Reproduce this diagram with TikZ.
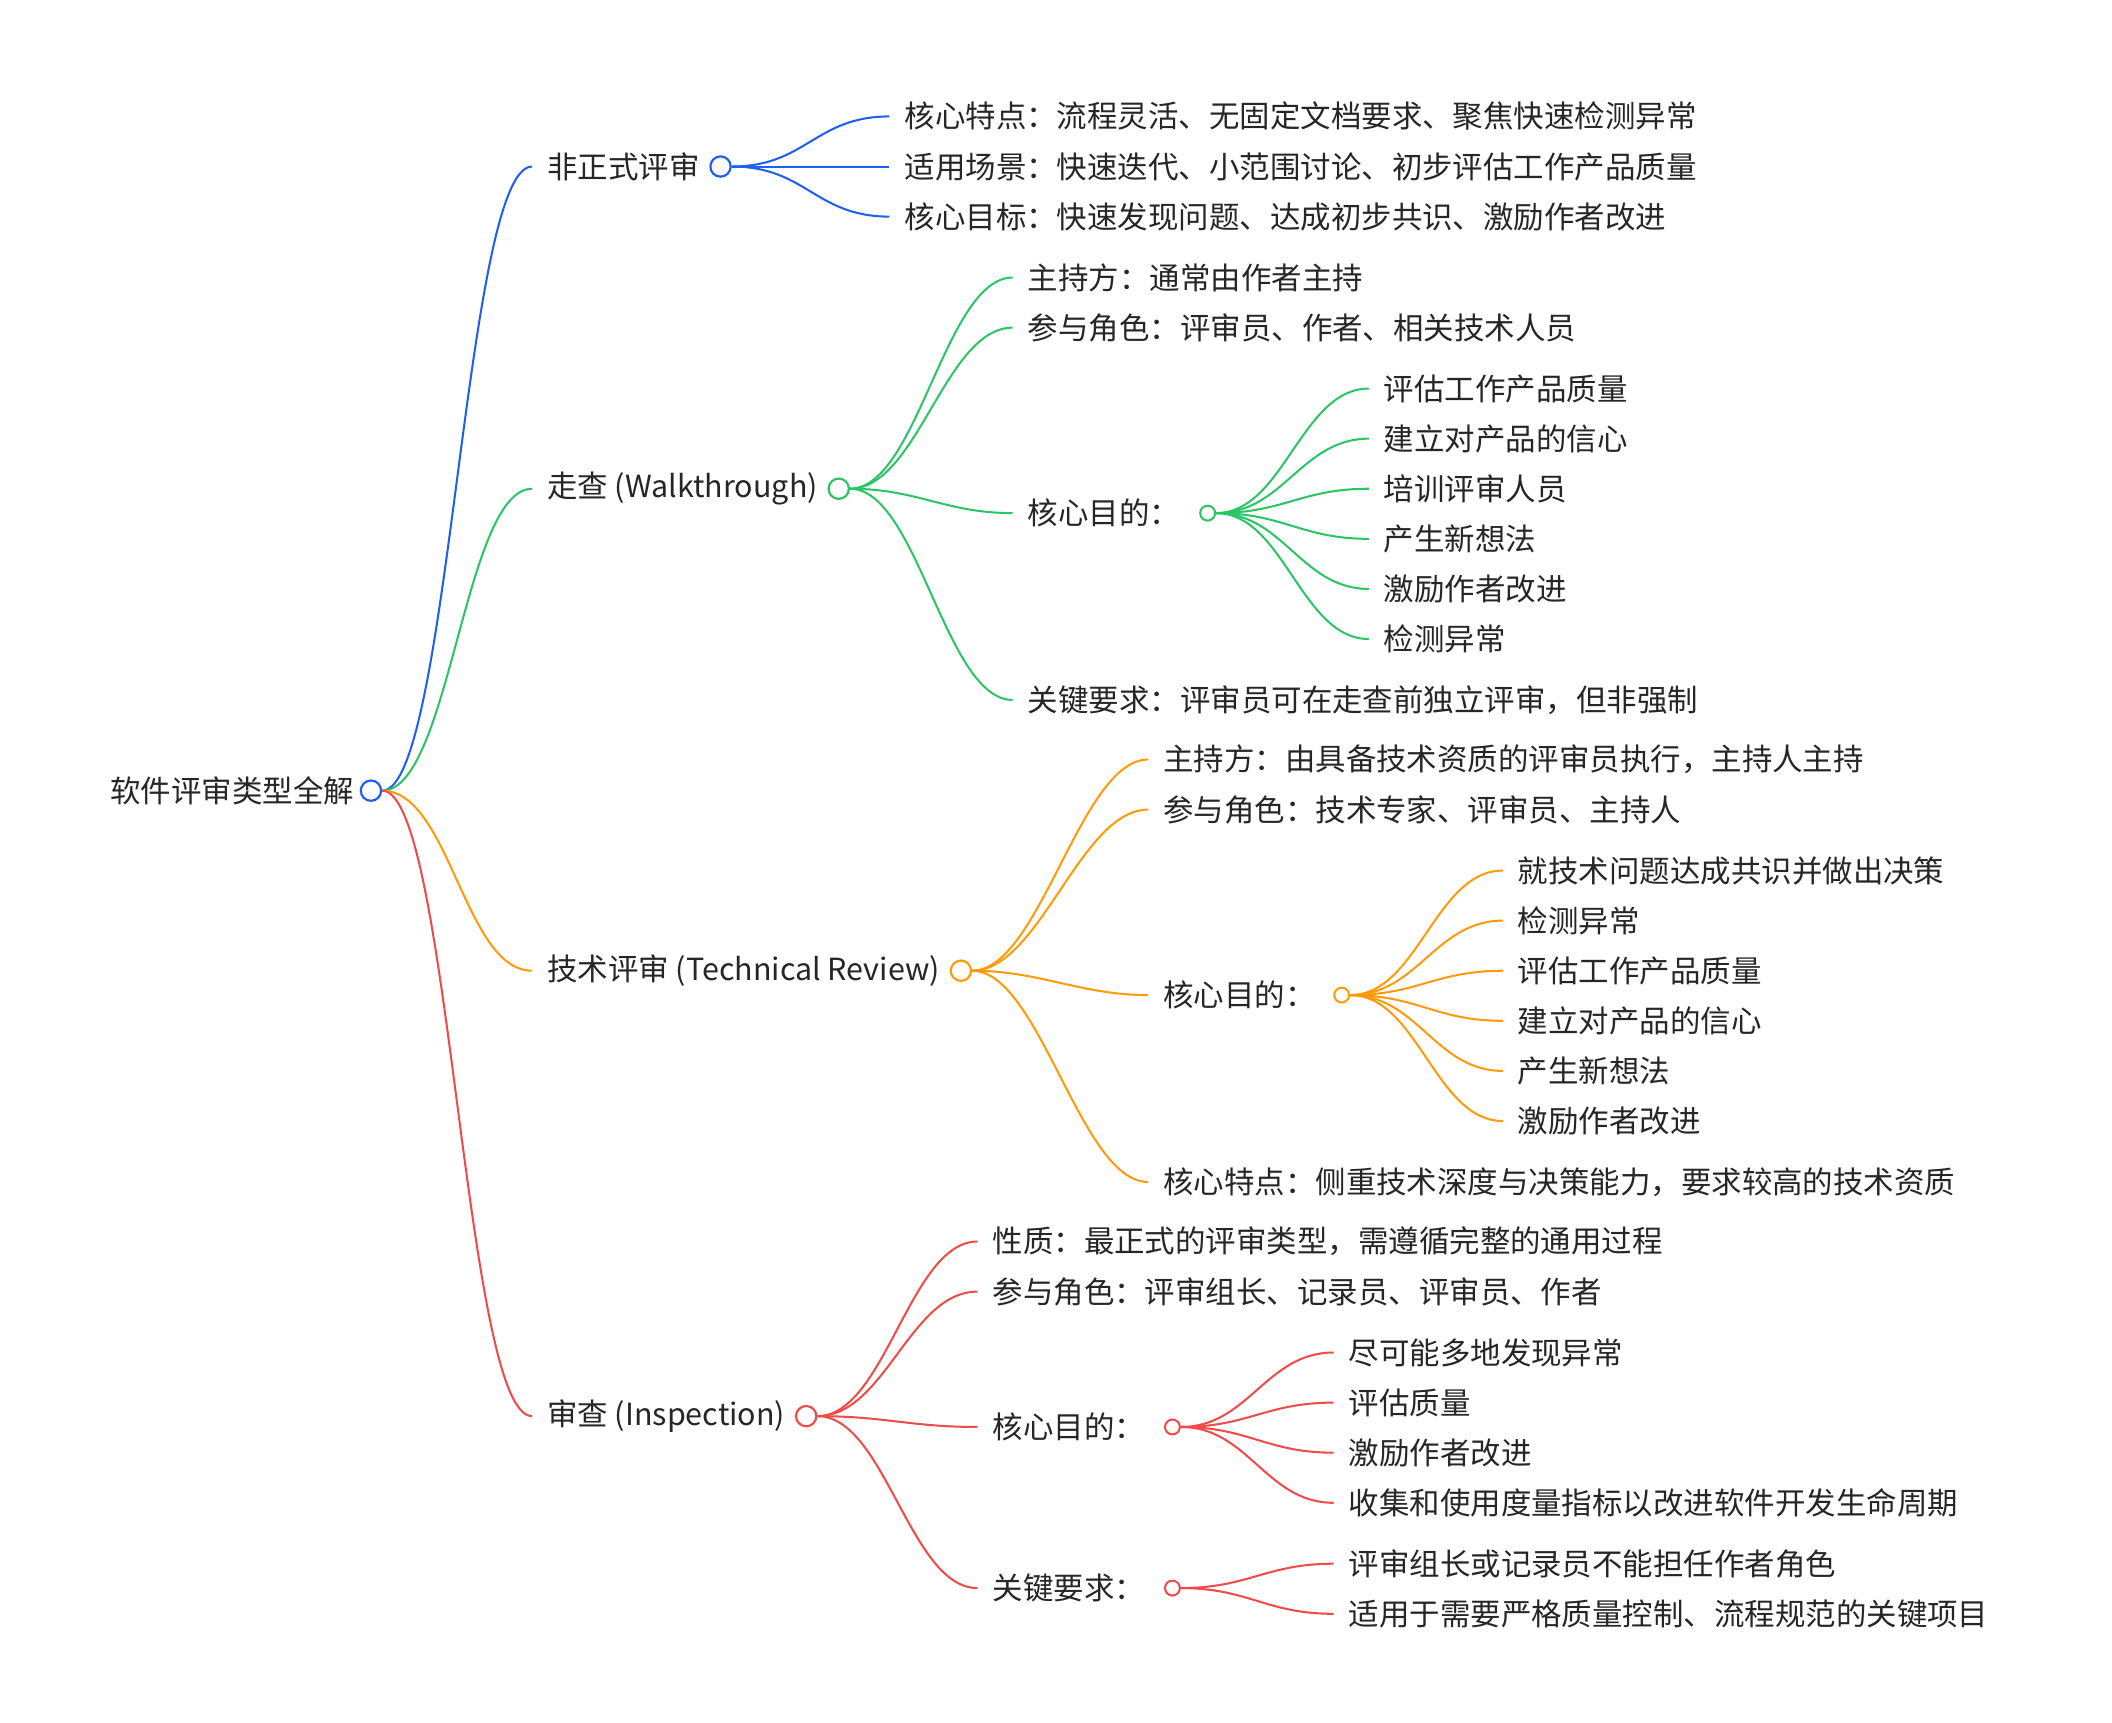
\documentclass[tikz,border=0pt]{standalone}
\usepackage{fontspec}
\setmainfont{Noto Sans CJK SC}
\definecolor{cb}{HTML}{1F5EF5}
\definecolor{cg}{HTML}{2BC565}
\definecolor{co}{HTML}{FF9A0A}
\definecolor{cr}{HTML}{F04A4A}
\begin{document}
\begin{tikzpicture}[x=1pt,y=-1pt,
  every node/.style={font=\fontsize{22.5}{27}\selectfont, text=black!85},
  lbl/.style={anchor=west, inner xsep=11pt, inner ysep=2pt},
  circ/.style={circle, draw, line width=1.6pt, fill=white, minimum size=15pt, inner sep=0pt},
  scirc/.style={circle, draw, line width=1.5pt, fill=white, minimum size=11pt, inner sep=0pt},
  ln/.style={line width=1.5pt}]
\useasboundingbox (0,0) rectangle (1560,1272);
% root
\node[circ, draw=cb] (root) at (274,584) {};
\node[anchor=east, inner xsep=4pt] (roott) at (root.west) {软件评审类型全解};
% level 1
\node[lbl] (a) at (393,123) {非正式评审};
\node[lbl] (b) at (393,361) {走查 (Walkthrough)};
\node[lbl] (c) at (393,717) {技术评审 (Technical Review)};
\node[lbl] (d) at (393,1046) {审查 (Inspection)};
\node[circ, draw=cb, anchor=west] (ac) at ([xshift=-4pt]a.east) {};
\node[circ, draw=cg, anchor=west] (bc) at ([xshift=-4pt]b.east) {};
\node[circ, draw=co, anchor=west] (cc) at ([xshift=-4pt]c.east) {};
\node[circ, draw=cr, anchor=west] (dc) at ([xshift=-4pt]d.east) {};
\draw[ln, cb] (root.east) .. controls +(50,0) and +(-50,0) .. (a.west);
\draw[ln, cg] (root.east) .. controls +(50,0) and +(-50,0) .. (b.west);
\draw[ln, co] (root.east) .. controls +(50,0) and +(-50,0) .. (c.west);
\draw[ln, cr] (root.east) .. controls +(50,0) and +(-50,0) .. (d.west);
% A children
\node[lbl] (a1) at (657,86) {核心特点：流程灵活、无固定文档要求、聚焦快速检测异常};
\node[lbl] (a2) at (657,123) {适用场景：快速迭代、小范围讨论、初步评估工作产品质量};
\node[lbl] (a3) at (657,160) {核心目标：快速发现问题、达成初步共识、激励作者改进};
\foreach \n in {a1,a2,a3}
  \draw[ln, cb] (ac.east) .. controls +(55,0) and +(-55,0) .. (\n.west);
% B children
\node[lbl] (b1) at (748,205) {主持方：通常由作者主持};
\node[lbl] (b2) at (748,242) {参与角色：评审员、作者、相关技术人员};
\node[lbl] (b3) at (748,379) {核心目的：};
\node[lbl] (b4) at (748,517) {关键要求：评审员可在走查前独立评审，但非强制};
\node[scirc, draw=cg] (b3c) at (892,379) {};
\foreach \n in {b1,b2,b3,b4}
  \draw[ln, cg] (bc.east) .. controls +(50,0) and +(-50,0) .. (\n.west);
\foreach \n/\y/\t in {b31/287/评估工作产品质量, b32/324/建立对产品的信心, b33/361/培训评审人员, b34/398/产生新想法, b35/435/激励作者改进, b36/472/检测异常}{
  \node[lbl] (\n) at (1011,\y) {\t};
  \draw[ln, cg] (b3c.east) .. controls +(50,0) and +(-50,0) .. (\n.west);
}
% C children
\node[lbl] (c1) at (848,561) {主持方：由具备技术资质的评审员执行，主持人主持};
\node[lbl] (c2) at (848,598) {参与角色：技术专家、评审员、主持人};
\node[lbl] (c3) at (848,735) {核心目的：};
\node[lbl] (c4) at (848,873) {核心特点：侧重技术深度与决策能力，要求较高的技术资质};
\node[scirc, draw=co] (c3c) at (991,735) {};
\foreach \n in {c1,c2,c3,c4}
  \draw[ln, co] (cc.east) .. controls +(50,0) and +(-50,0) .. (\n.west);
\foreach \n/\y/\t in {c31/643/就技术问题达成共识并做出决策, c32/680/检测异常, c33/717/评估工作产品质量, c34/754/建立对产品的信心, c35/791/产生新想法, c36/828/激励作者改进}{
  \node[lbl] (\n) at (1110,\y) {\t};
  \draw[ln, co] (c3c.east) .. controls +(50,0) and +(-50,0) .. (\n.west);
}
% D children
\node[lbl] (d1) at (722,917) {性质：最正式的评审类型，需遵循完整的通用过程};
\node[lbl] (d2) at (722,954) {参与角色：评审组长、记录员、评审员、作者};
\node[lbl] (d3) at (722,1054) {核心目的：};
\node[lbl] (d4) at (722,1173) {关键要求：};
\node[scirc, draw=cr] (d3c) at (866,1054) {};
\node[scirc, draw=cr] (d4c) at (866,1173) {};
\foreach \n in {d1,d2,d3,d4}
  \draw[ln, cr] (dc.east) .. controls +(50,0) and +(-50,0) .. (\n.west);
\foreach \n/\y/\t in {d31/999/尽可能多地发现异常, d32/1036/评估质量, d33/1073/激励作者改进, d34/1110/收集和使用度量指标以改进软件开发生命周期}{
  \node[lbl] (\n) at (985,\y) {\t};
  \draw[ln, cr] (d3c.east) .. controls +(50,0) and +(-50,0) .. (\n.west);
}
\foreach \n/\y/\t in {d41/1155/评审组长或记录员不能担任作者角色, d42/1192/适用于需要严格质量控制、流程规范的关键项目}{
  \node[lbl] (\n) at (985,\y) {\t};
  \draw[ln, cr] (d4c.east) .. controls +(50,0) and +(-50,0) .. (\n.west);
}
\end{tikzpicture}
\end{document}
